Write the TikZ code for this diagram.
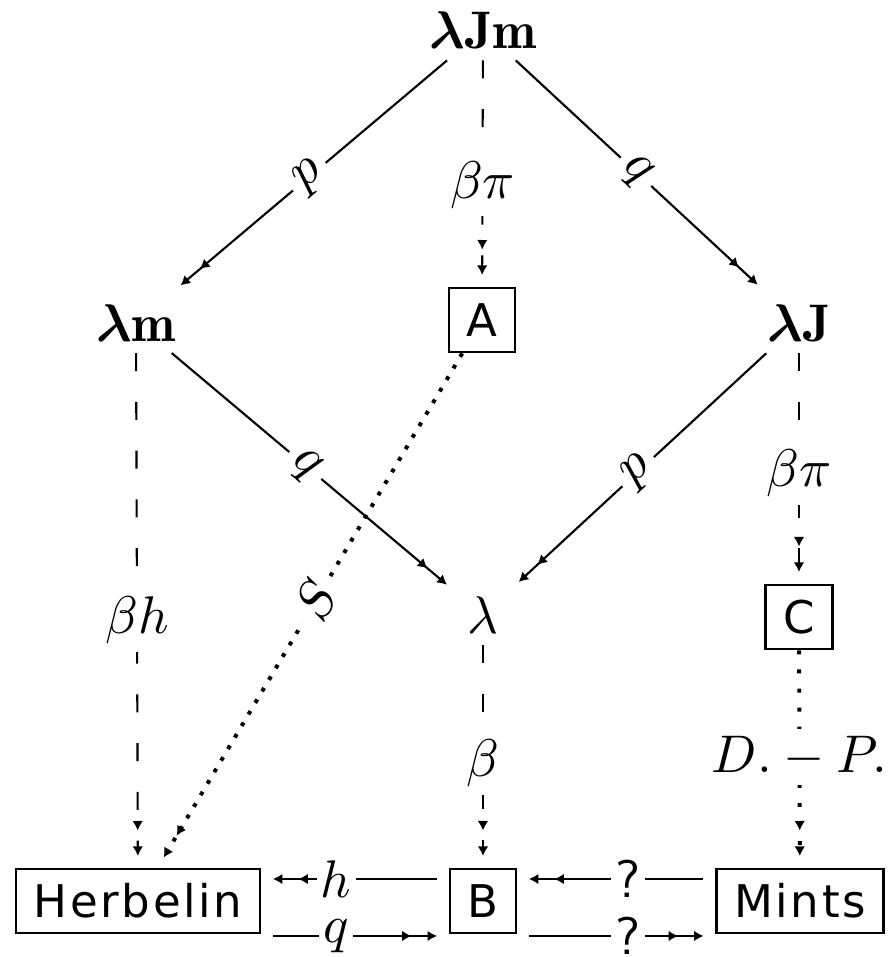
\documentclass[tikz,border=0pt]{standalone}
\usepackage{amsmath}
\usepackage{fontspec}
\newfontfamily\boxfont[LetterSpace=6]{DejaVu Sans}
\usetikzlibrary{arrows.meta}

\tikzset{
  obj/.style={inner sep=2pt},
  frm/.style={draw, line width=0.5pt, font={\boxfont\fontsize{8.5}{10}\selectfont},
    inner xsep=3.3pt, inner ysep=0pt, minimum height=12.1pt},
  arr/.style={line width=0.4pt,
    -{Latex[length=1.8pt,width=2pt,sep=3pt]Latex[length=1.8pt,width=2pt,sep=2.2pt]}},
  dsh/.style={arr, dash pattern=on 3.4pt off 5.8pt},
  dotS/.style={arr, line width=0.75pt, dash pattern=on 0.75pt off 1.78pt},
  dotC/.style={arr, line width=0.75pt, dash pattern=on 0.75pt off 2.85pt},
  lbl/.style={fill=white, inner sep=1.5pt},
  qlbl/.style={fill=white, inner sep=0.8pt, font=\sffamily},
  side/.style={shorten <=2.3pt}
}

\begin{document}
\begin{tikzpicture}[x=0.1887pt, y=-0.1887pt]
  \useasboundingbox (0,0) rectangle (892,957);
  % objects
  \node[obj] (ljm) at (483,30) {$\boldsymbol{\lambda}\mathbf{Jm}$};
  \node[obj] (lm) at (136,323) {$\boldsymbol{\lambda}\mathbf{m}$};
  \node[frm] (A) at (482,320) {A};
  \node[obj] (lj) at (799,323) {$\boldsymbol{\lambda}\mathbf{J}$};
  \node[obj] (l) at (483,615) {$\lambda$};
  \node[frm] (C) at (799,617) {C};
  \node[frm] (herb) at (138,901) {Herbelin};
  \node[frm] (B) at (483,901) {B};
  \node[frm] (mints) at (800,901) {Mints};
  % upper diamond
  \draw[arr] (ljm) -- node[lbl, sloped, pos=0.5] {$p$} (lm);
  \draw[dsh] (ljm) -- node[lbl, pos=0.55] {$\beta\pi$} (A);
  \draw[arr] (ljm) -- node[lbl, sloped, pos=0.48] {$q$} (lj);
  \draw[arr] (lm) -- node[lbl, sloped, pos=0.47] {$q$} (l);
  \draw[arr] (lj) -- node[lbl, sloped, pos=0.5] {$p$} (l);
  % down to the bottom row
  \draw[dsh] (lm) -- node[lbl, pos=0.52] {$\beta h$} (herb);
  \draw[dsh] (lj) -- node[lbl, pos=0.52] {$\beta\pi$} (C);
  \draw[dsh] (l) -- node[lbl, pos=0.53] {$\beta$} (B);
  \draw[dotS] (A) -- node[lbl, sloped, pos=0.48] {$S$} (herb);
  \draw[dotC] (C) -- node[lbl, pos=0.49] {$D.-P.$} (mints);
  % bottom row
  \draw[arr, side] ([yshift=4.15pt]B.west) -- node[lbl, inner sep=0.8pt, pos=0.6] {$h$} ([yshift=4.15pt]herb.east);
  \draw[arr, side] ([yshift=-6.6pt]herb.east) -- node[lbl, inner sep=0.8pt, pos=0.4] {$q$} ([yshift=-6.6pt]B.west);
  \draw[arr, side] ([yshift=4.15pt]mints.west) -- node[qlbl, pos=0.44] {?} ([yshift=4.15pt]B.east);
  \draw[arr, side] ([yshift=-6.6pt]B.east) -- node[qlbl, pos=0.56] {?} ([yshift=-6.6pt]mints.west);
\end{tikzpicture}
\end{document}
